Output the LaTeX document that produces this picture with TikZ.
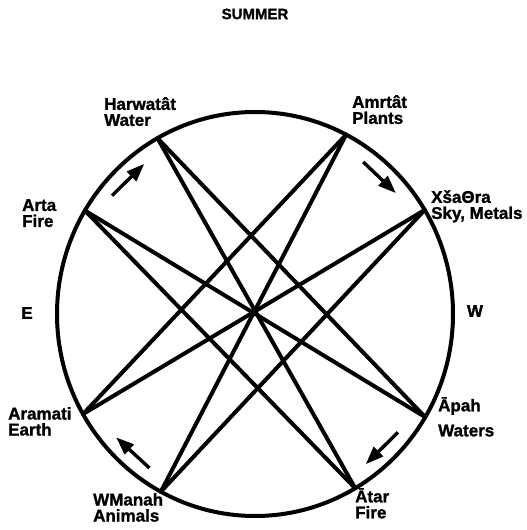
\documentclass[tikz,border=0pt]{standalone}
\usepackage{fontspec}
\setmainfont{Liberation Sans}[BoldFeatures={FakeBold=1.3}]
\usetikzlibrary{arrows.meta, calc, positioning}

\begin{document}
\begin{tikzpicture}[x=1pt, y=1pt,
    lbl/.style={anchor=north west, align=left, inner sep=0pt,
        font=\fontsize{17}{16}\selectfont\bfseries},
    chord/.style={line width=4pt, line cap=round},
    turn/.style={line width=3.4pt, -{Triangle[length=18pt, width=13pt]}}]
    \useasboundingbox (0,0) rectangle (527,530);

    % Wheel
    \coordinate (c) at (255,216);
    \draw[line width=4pt] (c) ellipse (198pt and 202pt);

    % Points on the rim
    \coordinate (xsathra) at ($(c)+(31:198 and 202)$);
    \coordinate (amrtat) at ($(c)+(62.6:198 and 202)$);
    \coordinate (harwatat) at ($(c)+(119.5:198 and 202)$);
    \coordinate (arta) at ($(c)+(149.2:198 and 202)$);
    \coordinate (aramati) at ($(c)+(209.7:198 and 202)$);
    \coordinate (wmanah) at ($(c)+(241.6:198 and 202)$);
    \coordinate (atar) at ($(c)+(300.4:198 and 202)$);
    \coordinate (apah) at ($(c)+(329.3:198 and 202)$);

    % Diameters
    \draw[chord] (harwatat) -- (atar);
    \draw[chord] (amrtat) -- (wmanah);
    \draw[chord] (arta) -- (apah);
    \draw[chord] (xsathra) -- (aramati);

    % Cross chords
    \draw[chord] (amrtat) -- (aramati);
    \draw[chord] (harwatat) -- (apah);
    \draw[chord] (arta) -- (atar);
    \draw[chord] (xsathra) -- (wmanah);

    % Turning arrows
    \foreach \a [count=\i] in {47,-46,228,134} {
        \coordinate (t\i) at ($(c)+(\a+7:184 and 188)$);
        \coordinate (h\i) at ($(c)+(\a-7:184 and 188)$);
        \draw[turn] (t\i) -- (h\i);
    }

    % Labels
    \node[font=\fontsize{15}{15}\selectfont\bfseries] (summer) at (255,516) {SUMMER};
    \node[font=\fontsize{17}{17}\selectfont\bfseries] (east) at (27,217) {E};
    \node[font=\fontsize{17}{17}\selectfont\bfseries] (west) at (475,219) {W};
    \node[lbl] (harlbl) at (104,433) {Harwatât\\Water};
    \node[lbl] (amrlbl) at (352,435) {Amrtât\\Plants};
    \node[lbl] (xsalbl) at (431,340) {XšaΘra\\Sky, Metals};
    \node[lbl] (artlbl) at (22,331) {Arta\\Fire};
    \node[lbl] (aralbl) at (8,123) {Aramati\\Earth};
    \node[lbl] (wmalbl) at (93,37) {WManah\\Animals};
    \node[lbl] (apalbl) at (438,133) {Āpah\\[9pt]Waters};
    \node[lbl] (atalbl) at (355,42) {Ātar\\Fire};
\end{tikzpicture}
\end{document}
